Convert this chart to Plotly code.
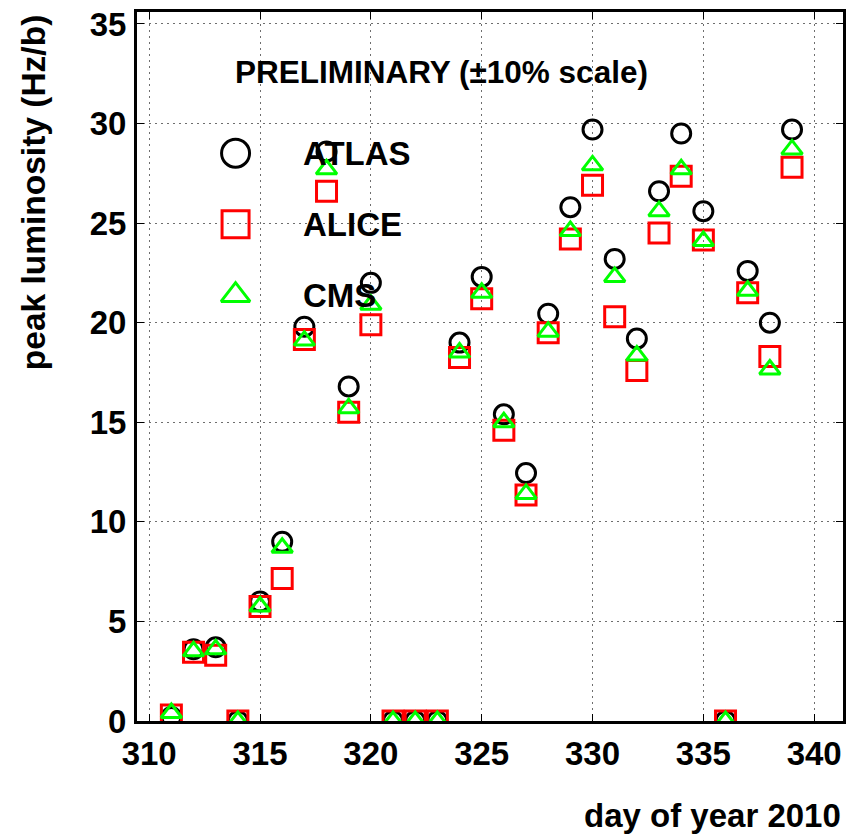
import plotly.graph_objects as go

days = list(range(311, 340))
atlas = [0.2, 3.6, 3.7, 0, 6.0, 9.0, 19.8, 28.6, 16.8, 22.0, 0, 0, 0, 19.0, 22.3, 15.4,
         12.45, 20.45, 25.8, 29.7, 23.2, 19.2, 26.6, 29.5, 25.6, 0, 22.6, 20.0, 29.7]
alice = [0.3, 3.45, 3.3, 0, 5.75, 7.15, 19.15, 26.6, 15.5, 19.9, 0, 0, 0, 18.25, 21.2, 14.6,
         11.35, 19.5, 24.2, 26.9, 20.3, 17.6, 24.5, 27.35, 24.15, 0, 21.5, 18.3, 27.8]
cms = [0.4, 3.5, 3.6, 0, 5.75, 8.7, 19.1, 27.7, 15.7, 20.9, 0, 0, 0, 18.5, 21.5, 15.0,
       11.4, 19.55, 24.6, 27.9, 22.3, 18.35, 25.6, 27.7, 24.1, 0, 21.6, 17.65, 28.7]

series_names = ["ATLAS", "ALICE", "CMS"]
series_values = [atlas, alice, cms]
series_colors = ["#000000", "#ff0000", "#00ff00"]
series_symbols = ["circle-open", "square-open", "triangle-up-open"]
series_sizes = [19, 20, 18]
legend_sizes = [28, 27, 25]

x_ticks = [310, 315, 320, 325, 330, 335, 340]
y_ticks = [0, 5, 10, 15, 20, 25, 30, 35]

FONT = "Liberation Sans, Arial, Helvetica, sans-serif"

fig = go.Figure()
for name, vals, col, sym, sz in zip(series_names, series_values, series_colors,
                                     series_symbols, series_sizes):
    fig.add_trace(go.Scatter(
        x=days, y=vals, mode="markers", name=name, showlegend=False,
        marker=dict(symbol=sym, size=sz, color=col, line=dict(color=col, width=3)),
        cliponaxis=True, xaxis="x", yaxis="y"))

# hand-made legend on an overlay axis in [0,1] paper-like units
leg_x = 0.1396
leg_y = [0.8008, 0.7008, 0.6006]
for name, col, sym, sz, ly in zip(series_names, series_colors, series_symbols,
                                  legend_sizes, leg_y):
    fig.add_trace(go.Scatter(
        x=[leg_x], y=[ly], mode="markers", showlegend=False, hoverinfo="skip",
        marker=dict(symbol=sym, size=sz, color=col, line=dict(color=col, width=3)),
        cliponaxis=False, xaxis="x2", yaxis="y2"))
    fig.add_annotation(x=0.2323, y=ly, xref="paper", yref="paper", text=name,
                       showarrow=False, xanchor="left", yanchor="middle",
                       font=dict(family=FONT, size=33, color="black", weight="bold"))

fig.add_annotation(x=0.431, y=0.916, xref="paper", yref="paper",
                   text="PRELIMINARY (±10% scale)", showarrow=False,
                   xanchor="center", yanchor="middle",
                   font=dict(family=FONT, size=31.5, color="black", weight="bold"))

fig.add_annotation(x=-0.147, y=1.0, xref="paper", yref="paper",
                   text="peak luminosity (Hz/b)", textangle=-90, showarrow=False,
                   xanchor="center", yanchor="top",
                   font=dict(family=FONT, size=33.5, color="black", weight="bold"))

fig.add_annotation(x=1.0, y=-0.1335, xref="paper", yref="paper",
                   text="day of year 2010", showarrow=False,
                   xanchor="right", yanchor="middle",
                   font=dict(family=FONT, size=33, color="black", weight="bold"))

axis_common = dict(showline=True, linecolor="black", linewidth=3, mirror="ticks",
                   ticks="inside", ticklen=7, tickwidth=1, tickcolor="black",
                   showgrid=True, gridcolor="#6e6e6e", gridwidth=1, griddash="2px,4px",
                   zeroline=False,
                   tickfont=dict(family=FONT, size=33, color="black", weight="bold"))

fig.update_layout(
    width=850, height=837,
    margin=dict(l=137, r=4, t=12, b=116),
    paper_bgcolor="white", plot_bgcolor="white",
    xaxis=dict(range=[309.45, 341.3], tickvals=x_ticks, ticklabelstandoff=1,
               **axis_common),
    yaxis=dict(range=[0, 35.6], tickvals=y_ticks, ticklabelstandoff=1,
               **axis_common),
    xaxis2=dict(overlaying="x", range=[0, 1], visible=False, anchor="y2"),
    yaxis2=dict(overlaying="y", range=[0, 1], visible=False, anchor="x2"),
)

fig.write_html("out.html")
